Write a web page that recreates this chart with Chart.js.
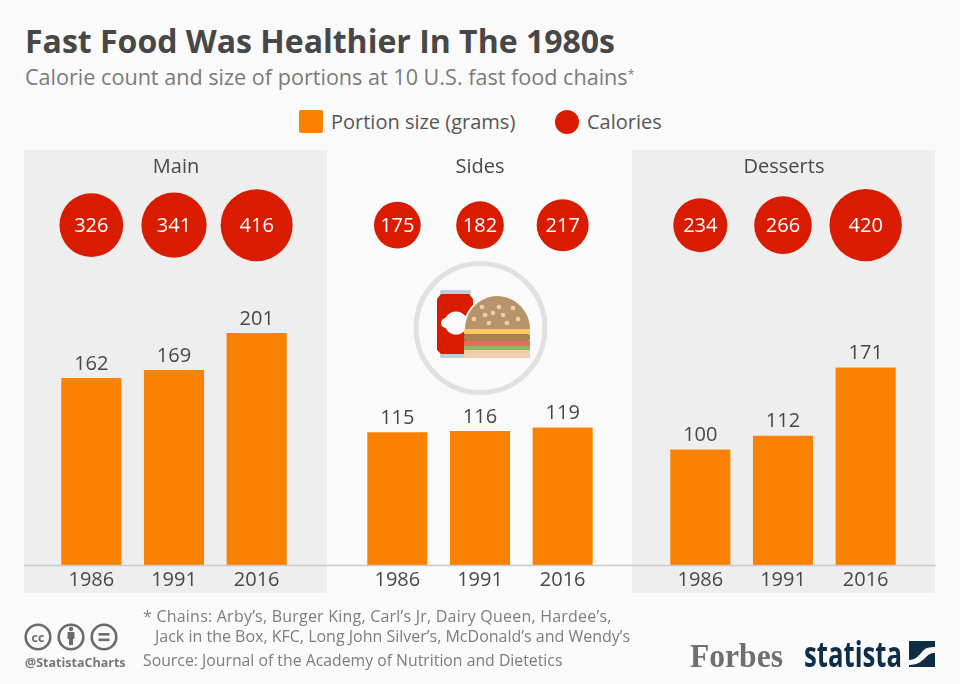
<!DOCTYPE html>
<html><head><meta charset="utf-8">
<script src="https://cdn.jsdelivr.net/npm/chart.js@4"></script>
<style>
html,body{margin:0;padding:0;background:#fafafa;width:960px;height:684px;overflow:hidden}
body{position:relative;font-family:"Open Sans",sans-serif}
.t{position:absolute;white-space:nowrap;line-height:1}
.panel{position:absolute;top:150px;height:443px;background:#eeeeee}
.wrap{position:absolute;top:150px;width:304px;height:443px}
svg{position:absolute;left:0;top:0}
</style></head><body>
<div class="t" style="left:25px;top:25px;font-size:32px;font-weight:700;color:#474747">Fast Food Was Healthier In The 1980s</div>
<div class="t" style="left:25px;top:66px;font-size:21.6px;color:#7a7a7a">Calorie count and size of portions at 10 U.S. fast food chains<sup style="font-size:12px;line-height:0;vertical-align:6px">*</sup></div>
<div class="t" style="left:299px;top:110px;width:24px;height:23px;background:#fa8200;border-radius:2px"></div>
<div class="t" style="left:331px;top:112px;font-size:20px;color:#555">Portion size (grams)</div>
<div class="t" style="left:555px;top:110px;width:24px;height:24px;background:#d91c00;border-radius:50%"></div>
<div class="t" style="left:587px;top:112px;font-size:20px;color:#555">Calories</div>

<div class="panel" style="left:24px;width:303px"></div>
<div class="panel" style="left:632px;width:303px"></div>
<div class="wrap" style="left:24px"><canvas id="main"></canvas></div>
<div class="wrap" style="left:328px"><canvas id="sides"></canvas></div>
<div class="wrap" style="left:632px"><canvas id="desserts"></canvas></div>

<svg width="960" height="684" viewBox="0 0 960 684">
  <circle cx="480.5" cy="328" r="64.5" fill="none" stroke="#e1e1e1" stroke-width="5"/>
  <rect x="440" y="290" width="31" height="5" rx="1" fill="#bcd0d8"/>
  <rect x="440" y="353" width="31" height="5" rx="1" fill="#bcd0d8"/>
  <path d="M441 294H469L473 299V350L469 354H441L437 350V299Z" fill="#d91c00"/>
  <circle cx="456" cy="323" r="11.5" fill="#fafafa"/><circle cx="446" cy="323" r="5" fill="#fafafa"/>
  <path d="M463 331V330C463 310 478 295 497 295C516 295 531 310 531 330V331Z" fill="#fafafa"/>
  <path d="M465 329C465 311 480 296 497 296C515 296 530 311 530 329Z" fill="#b8946c"/>
  <g fill="#f4cfa0"><circle cx="482" cy="307" r="2.3"/><circle cx="499" cy="307" r="2.3"/><circle cx="513" cy="308" r="2.3"/><circle cx="493" cy="313" r="2.3"/><circle cx="485" cy="315" r="2.3"/><circle cx="503" cy="315" r="2.3"/><circle cx="474" cy="319" r="2.3"/><circle cx="518" cy="319" r="2.3"/><circle cx="489" cy="323" r="2.3"/><circle cx="507" cy="323" r="2.3"/></g>
  <rect x="464" y="329" width="66" height="5" fill="#fcc75f"/>
  <rect x="464" y="334" width="66" height="7" rx="2" fill="#a9814f"/>
  <rect x="464" y="341" width="66" height="5" fill="#e36d5f"/>
  <rect x="464" y="346" width="66" height="4" fill="#84bd5b"/>
  <rect x="464" y="350" width="66" height="8" fill="#efcfae"/>
  <g fill="none" stroke="#6b6b6b" stroke-width="2.6"><circle cx="38" cy="637" r="12.3"/><circle cx="71" cy="637" r="12.3"/><circle cx="104" cy="637" r="12.3"/></g>
  <text x="38" y="641.5" text-anchor="middle" font-family="Open Sans" font-weight="700" font-size="12.5" fill="#6b6b6b">cc</text>
  <g fill="#6b6b6b"><circle cx="71" cy="629" r="2.2"/><rect x="67.5" y="632" width="7" height="7" rx="1"/><rect x="69" y="638" width="4" height="7"/><rect x="98.5" y="633" width="11" height="2.6"/><rect x="98.5" y="638.5" width="11" height="2.6"/></g>
  <text x="25" y="667" font-family="Open Sans" font-weight="700" font-size="12.5" fill="#777">@StatistaCharts</text>
  <text x="690" y="667" font-family="Liberation Serif" font-weight="700" font-size="33" fill="#6f6f6f" textLength="93" lengthAdjust="spacingAndGlyphs">Forbes</text>
  <text x="804" y="667" font-family="Open Sans" font-weight="700" font-size="36" fill="#102d47" textLength="98" lengthAdjust="spacingAndGlyphs">statista</text>
  <rect x="909" y="641" width="26" height="26" fill="#102d47"/>
  <path d="M909 660C919 660 921 650 927 648C930 647 933 647 935 647V653C930 653 928 655 925 658C922 661 918 665 909 665Z" fill="#fafafa"/>
</svg>
<div class="t" style="left:143px;top:608px;font-size:16px;letter-spacing:0.22px;color:#7d7d7d">* Chains: Arby’s, Burger King, Carl’s Jr, Dairy Queen, Hardee’s,</div>
<div class="t" style="left:155px;top:628px;font-size:16px;color:#7d7d7d">Jack in the Box, KFC, Long John Silver’s, McDonald’s and Wendy’s</div>
<div class="t" style="left:143px;top:653px;font-size:15.8px;color:#7d7d7d">Source: Journal of the Academy of Nutrition and Dietetics</div>

<script>
const years = ["1986", "1991", "2016"];
const mainPortions = [162, 169, 201];
const sidesPortions = [115, 116, 119];
const dessertsPortions = [100, 112, 171];
const mainCalories = [326, 341, 416];
const sidesCalories = [175, 182, 217];
const dessertsCalories = [234, 266, 420];

const ORANGE = "#fa8200", RED = "#d91c00", INK = "#484848";
const FONT = '"Open Sans", sans-serif';
const AREA_SCALE = 1.765;   // bubble radius per sqrt(calorie): area encodes calories
const ROW = 0.892;          // height of the calorie row on the hidden 0..1 axis

const valueLabels = {
  id: "valueLabels",
  afterDatasetsDraw(chart) {
    const ctx = chart.ctx;
    ctx.save();
    ctx.textAlign = "center";
    ctx.font = "20px " + FONT;
    chart.getDatasetMeta(0).data.forEach((bar, i) => {
      ctx.fillStyle = INK; ctx.textBaseline = "bottom";
      ctx.fillText(chart.data.datasets[0].data[i], bar.x, bar.y - 4);
    });
    chart.getDatasetMeta(1).data.forEach((pt, i) => {
      ctx.fillStyle = "#fff"; ctx.textBaseline = "middle";
      ctx.fillText(chart.data.datasets[1].calories[i], pt.x, pt.y + 1);
    });
    ctx.restore();
  }
};
const baseLine = {
  id: "baseLine",
  afterLayout(chart) {           // centre the panel title on the panel, not the plot
    const b = chart.titleBlock;
    const shift = chart.width / 2 - (b.left + b.right) / 2;
    b.left += shift; b.right += shift;
  },
  afterDraw(chart) {
    const ctx = chart.ctx, y = Math.round(chart.chartArea.bottom) + 0.5;
    ctx.save();
    ctx.strokeStyle = "#c9c9c9"; ctx.lineWidth = 1.5;
    ctx.beginPath(); ctx.moveTo(0, y); ctx.lineTo(chart.width, y); ctx.stroke();
    ctx.restore();
  }
};

function facet(id, title, portions, calories, padLeft, padRight) {
  return new Chart(document.getElementById(id), {
    type: "bar",
    data: {
      labels: years,
      datasets: [
        { label: "Portion size (grams)", data: portions, backgroundColor: ORANGE,
          barPercentage: 0.727, categoryPercentage: 1, yAxisID: "y", order: 2 },
        { type: "bubble", label: "Calories", calories: calories, clip: false,
          data: years.map((y, i) => ({ x: y, y: ROW, r: AREA_SCALE * Math.sqrt(calories[i]) })),
          backgroundColor: RED, borderWidth: 0, yAxisID: "y1", order: 1 }
      ]
    },
    options: {
      responsive: true, maintainAspectRatio: false, animation: false, devicePixelRatio: 1,
      layout: { autoPadding: false, padding: { left: padLeft, right: padRight, top: 0, bottom: 0 } },
      plugins: {
        legend: { display: false }, tooltip: { enabled: false },
        title: { display: true, text: title, color: INK,
                 font: { family: FONT, size: 20, weight: "normal", lineHeight: 1.2 },
                 padding: { top: 5, bottom: 5 } }
      },
      scales: {
        x: { grid: { display: false, drawTicks: false }, border: { display: false },
             ticks: { color: INK, font: { family: FONT, size: 20 }, padding: 3, maxRotation: 0 },
             afterFit(s) { s.height = 28; } },
        y: { display: false, min: 0, max: 330 },
        y1: { display: false, min: 0, max: 1 }
      }
    },
    plugins: [valueLabels, baseLine]
  });
}
facet("main", "Main", mainPortions, mainCalories, 26, 30);
facet("sides", "Sides", sidesPortions, sidesCalories, 28, 28);
facet("desserts", "Desserts", dessertsPortions, dessertsCalories, 27, 29);
</script>
</body></html>
